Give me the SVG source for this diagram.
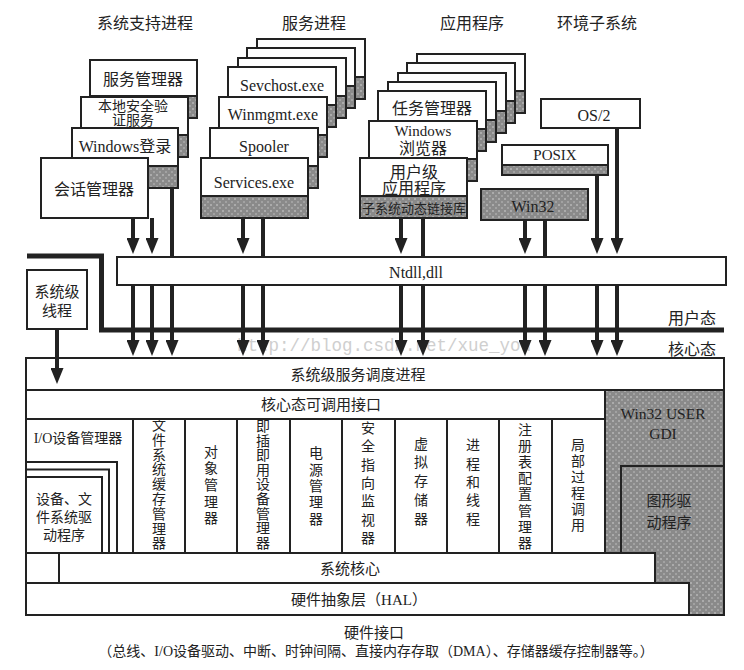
<svg xmlns="http://www.w3.org/2000/svg" width="744" height="670" viewBox="0 0 744 670">
<defs>
<pattern id="dots" width="6" height="6" patternUnits="userSpaceOnUse">
<rect width="6" height="6" fill="#8a8a8a"/>
<rect x="0" y="0" width="2" height="2" fill="#ababab"/>
<rect x="3" y="3" width="2" height="2" fill="#a2a2a2"/>
</pattern>
<marker id="ah" markerUnits="userSpaceOnUse" markerWidth="16" markerHeight="13" refX="10" refY="6.5" orient="auto">
<path d="M0,0 L16,6.5 L0,13 z" fill="#222"/>
</marker>
</defs>
<style>
.t{font-family:"Liberation Serif","Noto Sans CJK SC",serif;fill:#222;text-anchor:middle;dominant-baseline:central}
.b{fill:#fff;stroke:#222;stroke-width:2}
.g{fill:url(#dots);stroke:#222;stroke-width:2}
.ln{stroke:#222;stroke-width:2;fill:none}
.ar{stroke:#222;stroke-width:4;fill:none;marker-end:url(#ah)}
.sh{stroke:#222;stroke-width:4;fill:none}
.wm{font-family:"Liberation Mono",monospace;fill:#cfcfcf;font-size:17.5px;dominant-baseline:central}
</style>
<rect width="744" height="670" fill="#fff"/>

<g id="titles">
<text class="t" x="145" y="23" font-size="16">系统支持进程</text>
<text class="t" x="314" y="23" font-size="16">服务进程</text>
<text class="t" x="472" y="23" font-size="16">应用程序</text>
<text class="t" x="597" y="23" font-size="16">环境子系统</text>
</g>

<!-- system support processes -->
<g id="svc-manager">
<rect class="b" x="90" y="60" width="107" height="58"/>
<rect class="g" x="90" y="96" width="107" height="22"/>
<text class="t" x="143" y="79" font-size="16">服务管理器</text>
</g>
<g id="lsass">
<rect class="b" x="81" y="97" width="107" height="60"/>
<rect class="g" x="81" y="135" width="107" height="22"/>
<text class="t" x="133" y="106" font-size="14">本地安全验</text>
<text class="t" x="133" y="120" font-size="14">证服务</text>
</g>
<g id="winlogon">
<rect class="b" x="72" y="128" width="106" height="60"/>
<rect class="g" x="72" y="166" width="106" height="22"/>
<text class="t" x="125" y="146" font-size="16">Windows登录</text>
</g>
<g id="session-manager">
<rect class="b" x="41" y="158" width="107" height="60"/>
<text class="t" x="94" y="189" font-size="16">会话管理器</text>
</g>

<!-- service processes -->
<g id="svc-back0"><rect class="b" x="257" y="39" width="108" height="60"/><rect class="g" x="257" y="77" width="108" height="22"/></g>
<g id="svc-back1"><rect class="b" x="247" y="48" width="108" height="60"/><rect class="g" x="247" y="86" width="108" height="22"/></g>
<g id="svc-back2"><rect class="b" x="238" y="58" width="108" height="60"/><rect class="g" x="238" y="96" width="108" height="22"/></g>
<g id="svchost"><rect class="b" x="228" y="67" width="108" height="60"/><rect class="g" x="228" y="105" width="108" height="22"/>
<text class="t" x="282" y="85" font-size="16">Sevchost.exe</text></g>
<g id="winmgmt"><rect class="b" x="219" y="97" width="108" height="60"/><rect class="g" x="219" y="135" width="108" height="22"/>
<text class="t" x="273" y="114" font-size="16">Winmgmt.exe</text></g>
<g id="spooler"><rect class="b" x="210" y="128" width="108" height="60"/><rect class="g" x="210" y="166" width="108" height="22"/>
<text class="t" x="264" y="146" font-size="16">Spooler</text></g>
<g id="services"><rect class="b" x="201" y="158" width="107" height="60"/><rect class="g" x="201" y="196" width="107" height="22"/>
<text class="t" x="254" y="182" font-size="16">Services.exe</text></g>

<!-- applications -->
<g id="app-back0"><rect class="b" x="417" y="54" width="108" height="59"/><rect class="g" x="417" y="91" width="108" height="22"/></g>
<g id="app-back1"><rect class="b" x="407" y="63" width="108" height="60"/><rect class="g" x="407" y="101" width="108" height="22"/></g>
<g id="app-back2"><rect class="b" x="398" y="73" width="108" height="60"/><rect class="g" x="398" y="111" width="108" height="22"/></g>
<g id="app-back3"><rect class="b" x="388" y="82" width="108" height="60"/><rect class="g" x="388" y="120" width="108" height="22"/></g>
<g id="taskmgr"><rect class="b" x="378" y="91" width="108" height="60"/><rect class="g" x="378" y="129" width="108" height="22"/>
<text class="t" x="432" y="108" font-size="16">任务管理器</text></g>
<g id="browser"><rect class="b" x="369" y="121" width="108" height="60"/><rect class="g" x="369" y="159" width="108" height="22"/>
<text class="t" x="423" y="131" font-size="15">Windows</text>
<text class="t" x="423" y="148" font-size="16">浏览器</text></g>
<g id="user-app"><rect class="b" x="360" y="158" width="107" height="60"/><rect class="g" x="360" y="196" width="107" height="22"/>
<text class="t" x="414" y="172" font-size="16">用户级</text>
<text class="t" x="414" y="188" font-size="16">应用程序</text>
<text class="t" x="414" y="208" font-size="13">子系统动态链接库</text></g>

<!-- environment subsystems -->
<g id="os2"><rect class="b" x="541" y="99" width="99" height="29"/>
<text class="t" x="594" y="115" font-size="16">OS/2</text></g>
<g id="posix"><rect class="b" x="502" y="145" width="106" height="30"/><rect class="g" x="502" y="165" width="106" height="10"/>
<text class="t" x="555" y="155" font-size="15">POSIX</text></g>
<g id="win32"><rect class="g" x="481" y="189" width="107" height="31"/>
<text class="t" x="533" y="206" font-size="16">Win32</text></g>

<!-- ntdll / boundary -->
<g id="ntdll"><rect class="b" x="117" y="257" width="609" height="28"/>
<text class="t" x="416" y="272" font-size="16">Ntdll,dll</text></g>

<g id="boundary">
<polyline points="27,256 101.5,256 101.5,330 724,330" fill="none" stroke="#222" stroke-width="5"/>
<text class="t" x="692" y="318" font-size="16">用户态</text>
<text class="t" x="692" y="349" font-size="16">核心态</text>
</g>

<g id="system-thread"><rect class="b" x="27" y="270" width="60" height="59"/>
<text class="t" x="57" y="292" font-size="15">系统级</text>
<text class="t" x="57" y="311" font-size="15">线程</text></g>

<text class="wm" x="237" y="346">http://blog.csdn.net/xue_you</text>

<!-- kernel -->
<g id="kernel">
<rect class="b" x="26" y="358" width="698" height="32"/>
<text class="t" x="358" y="375" font-size="15">系统级服务调度进程</text>
<rect class="g" x="605" y="390" width="119" height="225"/>
<rect class="b" x="26" y="390" width="579" height="29"/>
<text class="t" x="321" y="405" font-size="15">核心态可调用接口</text>
<rect class="b" x="26" y="419" width="579" height="134"/>
<path class="ln" d="M133,419V553M185,419V553M237,419V553M290,419V553M342,419V553M395,419V553M447,419V553M499,419V553M552,419V553"/>
<text class="t" x="78" y="438" font-size="14">I/O设备管理器</text>
<path class="ln" d="M26,462H117V553M26,469.5H109V553M26,477H102V553"/>
<text class="t" x="64" y="499" font-size="14">设备、文</text>
<text class="t" x="64" y="517" font-size="14">件系统驱</text>
<text class="t" x="64" y="535" font-size="14">动程序</text>
<g font-size="14">
<text class="t" x="159"><tspan x="159" y="425">文</tspan><tspan x="159" y="439.8">件</tspan><tspan x="159" y="454.6">系</tspan><tspan x="159" y="469.4">统</tspan><tspan x="159" y="484.2">缓</tspan><tspan x="159" y="499">存</tspan><tspan x="159" y="513.8">管</tspan><tspan x="159" y="528.6">理</tspan><tspan x="159" y="543.4">器</tspan></text>
<text class="t" x="211"><tspan x="211" y="451.6">对</tspan><tspan x="211" y="468.3">象</tspan><tspan x="211" y="485">管</tspan><tspan x="211" y="501.7">理</tspan><tspan x="211" y="518.4">器</tspan></text>
<text class="t" x="263"><tspan x="263" y="426">即</tspan><tspan x="263" y="440.6">插</tspan><tspan x="263" y="455.2">即</tspan><tspan x="263" y="469.8">用</tspan><tspan x="263" y="484.4">设</tspan><tspan x="263" y="499">备</tspan><tspan x="263" y="513.6">管</tspan><tspan x="263" y="528.2">理</tspan><tspan x="263" y="542.8">器</tspan></text>
<text class="t" x="316"><tspan x="316" y="453.4">电</tspan><tspan x="316" y="469.7">源</tspan><tspan x="316" y="486">管</tspan><tspan x="316" y="502.3">理</tspan><tspan x="316" y="518.6">器</tspan></text>
<text class="t" x="368"><tspan x="368" y="428">安</tspan><tspan x="368" y="446.3">全</tspan><tspan x="368" y="464.6">指</tspan><tspan x="368" y="482.9">向</tspan><tspan x="368" y="501.2">监</tspan><tspan x="368" y="519.5">视</tspan><tspan x="368" y="537.8">器</tspan></text>
<text class="t" x="421"><tspan x="421" y="443.5">虚</tspan><tspan x="421" y="462.2">拟</tspan><tspan x="421" y="481">存</tspan><tspan x="421" y="499.7">储</tspan><tspan x="421" y="518.5">器</tspan></text>
<text class="t" x="473"><tspan x="473" y="445.4">进</tspan><tspan x="473" y="463.7">程</tspan><tspan x="473" y="482">和</tspan><tspan x="473" y="500.3">线</tspan><tspan x="473" y="518.6">程</tspan></text>
<text class="t" x="525"><tspan x="525" y="430">注</tspan><tspan x="525" y="446.1">册</tspan><tspan x="525" y="462.2">表</tspan><tspan x="525" y="478.3">配</tspan><tspan x="525" y="494.4">置</tspan><tspan x="525" y="510.5">管</tspan><tspan x="525" y="526.6">理</tspan><tspan x="525" y="542.7">器</tspan></text>
<text class="t" x="578"><tspan x="578" y="445">局</tspan><tspan x="578" y="461">部</tspan><tspan x="578" y="477">过</tspan><tspan x="578" y="493">程</tspan><tspan x="578" y="509">调</tspan><tspan x="578" y="525">用</tspan></text>
</g>
<text class="t" x="663" y="413" font-size="15.5">Win32 USER</text>
<text class="t" x="663" y="433" font-size="15.5">GDI</text>
<rect class="g" x="621" y="466" width="103" height="149"/>
<text class="t" x="669" y="501" font-size="15">图形驱</text>
<text class="t" x="669" y="523" font-size="15">动程序</text>
<rect class="b" x="59" y="553" width="596" height="30"/>
<text class="t" x="350" y="569" font-size="15">系统核心</text>
<rect class="b" x="26" y="583" width="663" height="32"/>
<text class="t" x="359" y="600" font-size="15">硬件抽象层（HAL）</text>
<rect x="26" y="358" width="698" height="257" fill="none" stroke="#222" stroke-width="2"/>
</g>

<g id="hardware-interface">
<text class="t" x="374" y="633" font-size="15">硬件接口</text>
<text class="t" x="376" y="651" font-size="14">（总线、I/O设备驱动、中断、时钟间隔、直接内存存取（DMA）、存储器缓存控制器等。）</text>
</g>

<g id="connectors">
<path class="ar" d="M133,218V248"/>
<path class="ar" d="M152,218V248"/>
<path class="sh" d="M172,188V257"/>
<path class="ar" d="M243,218V248"/>
<path class="sh" d="M263,218V257"/>
<path class="ar" d="M401,218V248"/>
<path class="sh" d="M423,218V257"/>
<path class="ar" d="M525,220V248"/>
<path class="sh" d="M545,220V257"/>
<path class="ar" d="M597,175V248"/>
<path class="ar" d="M617,128V248"/>
<path class="ar" d="M133,285V350"/>
<path class="ar" d="M152,285V350"/>
<path class="ar" d="M172,285V350"/>
<path class="ar" d="M243,285V350"/>
<path class="ar" d="M263,285V350"/>
<path class="ar" d="M401,285V350"/>
<path class="ar" d="M423,285V350"/>
<path class="ar" d="M525,285V350"/>
<path class="ar" d="M545,285V350"/>
<path class="ar" d="M597,285V350"/>
<path class="ar" d="M617,285V350"/>
<path class="ar" d="M57,330V378"/>
</g>
</svg>
